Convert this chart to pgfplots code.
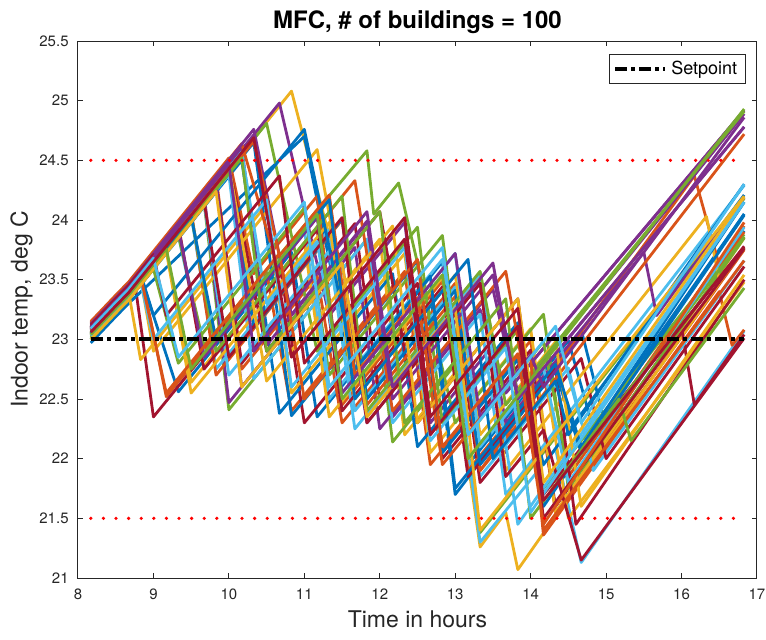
\documentclass[border=0pt]{standalone}
\usepackage{fontspec}
\setmainfont{TeX Gyre Heros}
\usepackage{pgfplots}
\pgfplotsset{compat=1.18}
\definecolor{c1}{rgb}{0,0.447,0.741}
\definecolor{c2}{rgb}{0.850,0.325,0.098}
\definecolor{c3}{rgb}{0.929,0.694,0.125}
\definecolor{c4}{rgb}{0.494,0.184,0.556}
\definecolor{c5}{rgb}{0.466,0.674,0.188}
\definecolor{c6}{rgb}{0.301,0.745,0.933}
\definecolor{c7}{rgb}{0.635,0.078,0.184}
\definecolor{axc}{rgb}{0.15,0.15,0.15}
\begin{document}
\begin{tikzpicture}
\begin{axis}[
 scale only axis, width=339.5pt, height=268.5pt,
 xmin=8, xmax=17, ymin=21, ymax=25.5,
 xtick={8,9,10,11,12,13,14,15,16,17},
 ytick={21,21.5,22,22.5,23,23.5,24,24.5,25,25.5},
 tick align=inside, major tick length=2.5pt,
 axis line style={axc, line width=0.5pt},
 every tick/.style={axc, line width=0.5pt},
 tick label style={font=\fontsize{7.5}{9}\selectfont, text=axc},
 /pgf/number format/assume math mode=true,
 /pgf/number format/fixed,
 yticklabel style={anchor=east, inner sep=0pt, xshift=-4.5pt},
 xticklabel style={anchor=base, inner sep=0pt, yshift=-10.5pt},
 xlabel={Time in hours}, ylabel={Indoor temp, deg C},
 label style={font=\fontsize{11.5}{13}\selectfont, text=axc},
 xlabel style={at={(axis description cs:0.5,-0.0931)}, anchor=base, inner sep=0pt},
 ylabel style={at={(axis description cs:-0.0663,0.5)}, anchor=south, inner sep=0pt},
 title={MFC, \# of buildings = 100},
 every axis title/.style={font=\bfseries\fontsize{12}{14}\selectfont, at={(axis description cs:0.5,1)}, anchor=base, yshift=6.35pt, inner sep=0pt},
 legend style={at={(1,1)}, anchor=north east, xshift=-5.65pt, yshift=-6.65pt, draw=axc, line width=0.5pt, font=\fontsize{9}{10.5}\selectfont, inner xsep=2pt, inner ysep=1pt},
 legend cell align=left,
 legend image code/.code={\draw[#1] (0pt,0pt) -- (25pt,0pt);},
 bl/.style={line width=1.4pt, line join=round, forget plot},
]
\addplot[c1,bl] coordinates {(8.17,23.08)(8.5,23.30)(8.67,23.41)(8.83,23.53)(9.33,22.56)(10.83,23.73)(11.17,22.35)(12.83,23.65)(13.17,21.95)(14.5,22.99)(14.83,22.25)(16.83,24.05)};
\addplot[c2,bl] coordinates {(8.17,23.12)(8.5,23.34)(8.67,23.45)(8.83,23.57)(9.17,22.52)(10.5,23.56)(10.83,22.40)(12.33,23.57)(12.67,21.95)(14.0,22.99)(14.33,21.55)(16.83,23.75)};
\addplot[c3,bl] coordinates {(8.17,23.06)(8.5,23.28)(8.67,23.39)(10.83,25.08)(11.5,23.45)(12.0,23.84)(12.33,22.20)(13.0,22.72)(13.33,21.26)(13.67,21.55)(13.83,21.07)(16.83,23.77)};
\addplot[c4,bl] coordinates {(8.17,23.09)(8.5,23.31)(8.67,23.42)(10.67,24.98)(11.33,23.20)(12.33,23.98)(12.67,22.30)(13.5,22.95)(13.67,22.55)(16.83,24.92)};
\addplot[c5,bl] coordinates {(8.17,23.04)(8.5,23.26)(8.67,23.37)(9.67,24.15)(10.0,22.41)(11.83,23.84)(12.17,22.14)(13.0,22.79)(13.33,21.38)(16.83,24.18)};
\addplot[c6,bl] coordinates {(8.17,23.02)(8.5,23.24)(8.67,23.35)(9.33,23.87)(9.67,22.88)(11.0,23.92)(11.33,22.50)(12.83,23.67)(13.33,21.30)(14.33,22.08)(14.67,21.13)(16.83,23.07)};
\addplot[c7,bl] coordinates {(8.17,23.10)(8.5,23.32)(8.67,23.43)(8.75,23.49)(9.0,22.35)(10.67,23.65)(11.0,22.30)(12.5,23.47)(12.83,22.00)(14.0,22.91)(14.33,21.60)(16.0,23.10)(16.17,22.45)(16.83,23.04)};
\addplot[c1,bl] coordinates {(8.17,22.97)(8.5,23.19)(8.67,23.30)(11.0,24.70)(11.67,22.60)(12.67,23.38)(13.0,21.70)(14.67,23.08)(15.0,22.26)(16.83,23.91)};
\addplot[c2,bl] coordinates {(8.17,23.13)(8.5,23.35)(8.67,23.46)(9.83,24.36)(10.17,22.75)(11.17,23.53)(11.5,22.30)(13.0,23.47)(13.33,21.90)(14.0,22.42)(14.17,21.36)(16.5,23.40)(16.67,22.95)(16.83,23.08)};
\addplot[c3,bl] coordinates {(8.17,23.07)(8.5,23.29)(8.67,23.40)(8.83,22.83)(10.5,24.13)(10.83,22.55)(12.33,23.72)(12.67,22.05)(14.0,23.09)(14.33,21.55)(16.83,23.85)};
\addplot[c4,bl] coordinates {(8.17,23.11)(8.5,23.33)(8.67,23.44)(9.67,24.22)(10.0,22.47)(11.67,23.77)(12.0,22.25)(13.5,23.42)(13.83,22.50)(16.83,24.78)};
\addplot[c5,bl] coordinates {(8.17,23.03)(8.5,23.25)(8.67,23.36)(9.33,23.87)(9.67,22.95)(11.83,24.58)(11.92,24.05)(12.25,24.31)(13.0,22.30)(14.17,23.21)(14.5,21.75)(16.83,23.85)};
\addplot[c6,bl] coordinates {(8.17,23.06)(8.5,23.28)(8.67,23.39)(9.5,24.04)(9.83,22.75)(11.33,23.92)(11.67,22.40)(13.0,23.44)(13.33,21.85)(14.5,22.76)(14.83,21.90)(16.83,23.66)};
\addplot[c7,bl] coordinates {(8.17,23.08)(8.5,23.30)(8.67,23.41)(9.83,24.31)(10.17,22.80)(11.67,23.97)(12.0,22.50)(13.0,23.28)(13.33,21.80)(14.67,22.84)(15.0,22.00)(16.83,23.61)};
\addplot[c1,bl] coordinates {(8.17,23.00)(8.5,23.22)(8.67,23.33)(10.17,24.50)(10.67,22.38)(12.17,23.55)(12.5,22.10)(13.83,23.14)(14.17,21.60)(16.83,24.05)};
\addplot[c2,bl] coordinates {(8.17,23.15)(8.5,23.37)(8.67,23.48)(10.0,24.52)(10.33,23.55)(11.17,24.20)(11.5,22.45)(12.83,23.49)(13.17,21.90)(14.17,22.68)(14.5,21.85)(16.83,23.95)};
\addplot[c3,bl] coordinates {(8.17,23.04)(8.5,23.26)(8.67,23.37)(9.17,23.76)(9.5,22.64)(11.0,23.81)(11.33,22.35)(12.83,23.52)(13.17,22.00)(14.17,22.78)(14.5,21.50)(16.83,23.48)};
\addplot[c4,bl] coordinates {(8.17,23.12)(8.5,23.34)(8.67,23.45)(10.17,24.62)(10.5,22.95)(11.83,23.99)(12.17,22.35)(13.33,23.25)(13.67,22.55)(16.83,24.92)};
\addplot[c5,bl] coordinates {(8.17,23.05)(8.5,23.27)(8.67,23.38)(10.5,24.81)(11.17,22.90)(12.5,23.94)(12.83,22.30)(13.83,23.08)(14.17,21.75)(16.83,23.88)};
\addplot[c6,bl] coordinates {(8.17,23.01)(8.5,23.23)(8.67,23.34)(10.0,24.38)(10.33,22.67)(11.83,23.84)(12.17,22.30)(13.33,23.21)(13.67,21.70)(16.83,24.29)};
\addplot[c7,bl] coordinates {(8.17,23.09)(8.5,23.31)(8.67,23.42)(10.0,24.46)(10.5,22.90)(12.0,24.07)(12.5,22.30)(13.83,23.34)(14.17,21.70)(16.83,23.77)};
\addplot[c1,bl] coordinates {(8.17,23.03)(8.5,23.25)(8.67,23.36)(10.33,24.65)(10.83,22.36)(12.5,23.66)(12.83,22.05)(13.83,22.83)(14.17,21.95)(16.83,24.21)};
\addplot[c2,bl] coordinates {(8.17,23.10)(8.5,23.32)(8.67,23.43)(9.5,24.08)(9.83,22.70)(11.5,24.00)(11.83,22.45)(13.0,23.36)(13.33,21.90)(16.17,24.37)(16.5,23.62)(16.83,23.90)};
\addplot[c3,bl] coordinates {(8.17,23.06)(8.5,23.28)(8.67,23.39)(8.83,23.51)(9.0,22.90)(11.17,24.59)(11.83,22.35)(13.33,23.52)(13.67,21.90)(16.33,24.03)(16.5,23.50)(16.83,23.76)};
\addplot[c4,bl] coordinates {(8.17,23.07)(8.5,23.29)(8.67,23.40)(9.83,24.31)(10.17,22.60)(11.5,23.64)(11.83,22.30)(13.33,23.47)(13.67,22.30)(15.5,23.73)(15.67,23.20)(16.83,24.19)};
\addplot[c5,bl] coordinates {(8.17,23.00)(8.5,23.22)(8.67,23.33)(9.0,23.59)(9.33,22.80)(11.0,24.10)(11.33,22.70)(12.83,23.87)(13.17,22.20)(14.17,22.98)(14.5,21.90)(16.83,23.86)};
\addplot[c6,bl] coordinates {(8.17,23.04)(8.5,23.26)(8.67,23.37)(9.67,24.15)(10.0,22.70)(11.33,23.74)(11.67,22.25)(13.33,23.55)(13.83,21.45)(16.83,24.15)};
\addplot[c7,bl] coordinates {(8.17,23.11)(8.5,23.33)(8.67,23.44)(9.33,23.96)(9.67,22.75)(11.17,23.92)(11.5,22.40)(12.83,23.44)(13.17,21.85)(14.33,22.76)(14.6,21.45)(16.83,23.50)};
\addplot[c1,bl] coordinates {(8.17,23.08)(8.5,23.30)(8.67,23.41)(10.0,24.45)(10.33,23.10)(11.5,24.01)(11.83,22.50)(13.0,23.41)(13.33,21.95)(14.33,22.73)(14.67,22.05)(16.83,24.04)};
\addplot[c2,bl] coordinates {(8.17,23.14)(8.5,23.36)(8.67,23.47)(10.17,24.64)(10.67,23.55)(11.67,24.33)(12.17,22.40)(13.67,23.57)(14.0,22.40)(16.83,24.72)};
\addplot[c3,bl] coordinates {(8.17,23.02)(8.5,23.24)(8.67,23.35)(9.17,23.74)(9.5,22.55)(11.33,23.98)(11.67,22.50)(13.0,23.54)(13.33,22.20)(14.33,22.98)(14.67,21.60)(16.83,23.54)};
\addplot[c4,bl] coordinates {(8.17,23.13)(8.5,23.35)(8.67,23.46)(10.33,24.76)(10.83,23.20)(11.83,23.98)(12.17,22.50)(13.5,23.54)(13.83,22.55)(16.83,24.89)};
\addplot[c5,bl] coordinates {(8.17,23.06)(8.5,23.28)(8.67,23.39)(9.5,24.04)(9.83,22.90)(11.5,24.20)(11.83,22.40)(13.33,23.57)(13.67,22.45)(16.83,24.91)};
\addplot[c6,bl] coordinates {(8.17,23.07)(8.5,23.29)(8.67,23.40)(10.17,24.57)(10.5,23.30)(11.17,23.82)(11.5,22.55)(13.0,23.72)(13.33,22.10)(14.17,22.76)(14.5,21.80)(16.83,23.94)};
\addplot[c7,bl] coordinates {(8.17,23.05)(8.5,23.27)(8.67,23.38)(9.67,24.16)(10.0,22.85)(11.5,24.02)(11.83,22.30)(13.33,23.47)(13.67,21.85)(14.17,22.24)(14.67,21.15)(16.83,23.01)};
\addplot[c1,bl] coordinates {(8.17,23.10)(8.5,23.32)(8.67,23.43)(8.83,23.55)(9.0,23.20)(11.0,24.76)(11.67,22.75)(12.67,23.53)(13.0,21.75)(14.33,22.79)(14.67,22.10)(16.83,24.15)};
\addplot[c2,bl] coordinates {(8.17,23.03)(8.5,23.25)(8.67,23.36)(10.33,24.66)(10.67,23.70)(11.33,24.21)(11.67,22.70)(12.5,23.35)(12.83,21.95)(14.0,22.86)(14.17,21.40)(16.83,23.66)};
\addplot[c3,bl] coordinates {(8.17,23.09)(8.5,23.31)(8.67,23.42)(10.0,24.46)(10.5,22.65)(12.17,23.95)(12.5,22.30)(13.83,23.34)(14.17,21.80)(16.83,24.19)};
\addplot[c4,bl] coordinates {(8.17,23.08)(8.5,23.30)(8.67,23.41)(9.33,23.93)(9.67,22.85)(11.17,24.02)(11.5,22.55)(13.0,23.72)(13.33,22.35)(14.0,22.87)(14.17,22.60)(16.83,24.86)};
\addplot[c5,bl] coordinates {(8.17,23.02)(8.5,23.24)(8.67,23.35)(10.17,24.52)(10.5,22.90)(12.0,24.07)(12.33,22.30)(13.67,23.34)(14.0,21.50)(15.17,22.50)(15.33,22.15)(16.83,23.43)};
\addplot[c6,bl] coordinates {(8.17,23.03)(8.5,23.25)(8.67,23.36)(8.83,23.48)(9.0,23.00)(10.5,24.17)(10.83,22.60)(12.33,23.77)(12.67,22.15)(13.67,22.93)(14.0,21.55)(16.83,24.15)};
\addplot[c7,bl] coordinates {(8.17,23.12)(8.5,23.34)(8.67,23.45)(9.0,23.71)(9.17,23.20)(10.67,24.37)(11.0,22.80)(12.33,23.84)(12.67,22.20)(13.83,23.11)(14.17,21.50)(16.83,23.76)};
\addplot[c1,bl] coordinates {(8.17,23.05)(8.5,23.27)(8.67,23.38)(9.5,24.03)(9.83,23.00)(11.33,24.17)(11.67,22.50)(13.17,23.67)(13.5,22.00)(14.33,22.65)(14.5,22.20)(16.83,24.30)};
\addplot[c2,bl] coordinates {(8.17,23.08)(8.5,23.30)(8.67,23.41)(8.83,23.53)(9.17,22.55)(10.67,23.72)(11.0,22.50)(12.5,23.67)(12.83,22.10)(13.83,22.88)(14.17,21.45)(16.83,23.98)};
\addplot[c3,bl] coordinates {(8.17,23.00)(8.5,23.22)(8.67,23.33)(9.83,24.24)(10.17,22.60)(11.5,23.64)(11.83,22.35)(13.0,23.26)(13.33,21.40)(16.83,24.20)};
\addplot[c4,bl] coordinates {(8.17,23.10)(8.5,23.32)(8.67,23.43)(10.0,24.47)(10.33,22.90)(11.83,24.07)(12.17,22.60)(13.5,23.64)(13.83,22.50)(16.83,24.78)};
\addplot[c5,bl] coordinates {(8.17,23.04)(8.5,23.26)(8.67,23.37)(9.17,23.76)(9.5,22.75)(11.17,24.05)(11.5,22.50)(12.83,23.54)(13.17,22.00)(16.83,24.93)};
\addplot[c6,bl] coordinates {(8.17,23.09)(8.5,23.31)(8.67,23.42)(9.0,23.68)(9.33,22.85)(11.0,24.15)(11.33,22.60)(12.83,23.77)(13.17,22.20)(14.33,23.11)(14.67,22.30)(16.83,24.30)};
\addplot[c7,bl] coordinates {(8.17,23.06)(8.5,23.28)(8.67,23.39)(10.33,24.69)(10.83,22.85)(12.33,24.02)(12.67,22.35)(13.83,23.26)(14.17,21.65)(16.83,23.78)};
\addplot[red, line width=1.8pt, line cap=round, dash pattern=on 0pt off 6.3pt, forget plot] coordinates {(8.17,24.5)(16.83,24.5)};
\addplot[red, line width=1.8pt, line cap=round, dash pattern=on 0pt off 6.3pt, forget plot] coordinates {(8.17,21.5)(16.83,21.5)};
\addplot[black, line width=1.9pt, dash pattern=on 6pt off 2pt on 2pt off 2pt] coordinates {(8.17,23)(16.83,23)};
\addlegendentry{Setpoint}
\end{axis}
\pgfresetboundingbox
\path[use as bounding box] (-39pt,-30.5pt) rectangle (344pt,289pt);
\end{tikzpicture}
\end{document}
